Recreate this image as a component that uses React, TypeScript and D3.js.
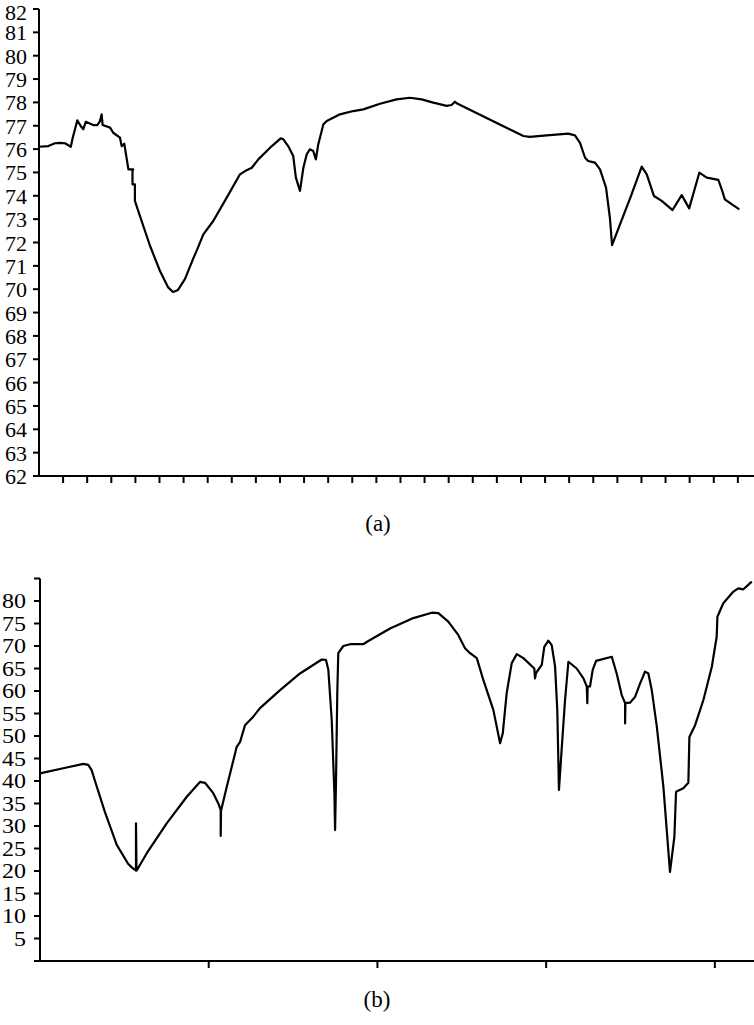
import React, { useRef, useEffect } from "react";
import * as d3 from "d3";

// chart (a): x in tick units, y in the axis units
const topX = [0, 0.39, 0.66, 0.87, 1.08, 1.32, 1.4, 1.59, 1.73, 1.84, 1.94, 2.25, 2.42, 2.53, 2.6, 2.64, 2.95, 3.08, 3.36, 3.43, 3.54, 3.71, 3.91, 3.88, 3.88, 3.98, 3.98, 4.19, 4.61, 5.02, 5.35, 5.56, 5.77, 6.06, 6.39, 6.54, 6.82, 7.23, 7.79, 8.34, 8.55, 8.83, 9.1, 9.59, 10.03, 10.14, 10.34, 10.55, 10.66, 10.83, 10.97, 11.11, 11.24, 11.38, 11.49, 11.59, 11.8, 11.94, 12.49, 13.04, 13.46, 14.15, 14.84, 15.39, 15.88, 16.36, 16.92, 17.12, 17.26, 17.33, 20.1, 20.37, 21.07, 21.96, 22.24, 22.45, 22.66, 22.79, 23.07, 23.28, 23.53, 23.69, 23.78, 24.11, 24.59, 25.01, 25.22, 25.52, 25.84, 26.29, 26.67, 26.98, 27.4, 27.71, 28.19, 28.33, 28.46, 28.74, 29.06];
const topY = [76.1, 76.13, 76.25, 76.27, 76.25, 76.1, 76.49, 77.23, 76.99, 76.85, 77.17, 77.03, 77.03, 77.2, 77.49, 77.03, 76.92, 76.7, 76.49, 76.13, 76.23, 75.13, 75.13, 75.06, 74.49, 74.49, 73.78, 73.13, 71.85, 70.78, 70.09, 69.88, 69.97, 70.44, 71.29, 71.64, 72.35, 72.92, 73.92, 74.92, 75.06, 75.2, 75.56, 76.06, 76.46, 76.42, 76.13, 75.7, 74.78, 74.21, 75.2, 75.78, 75.99, 75.92, 75.56, 76.21, 77.06, 77.2, 77.49, 77.63, 77.7, 77.94, 78.13, 78.2, 78.13, 77.99, 77.85, 77.89, 78.03, 77.96, 76.56, 76.52, 76.59, 76.66, 76.59, 76.27, 75.63, 75.49, 75.42, 75.13, 74.35, 73.06, 71.89, 72.78, 74.06, 75.25, 74.92, 73.99, 73.78, 73.39, 74.03, 73.46, 74.99, 74.78, 74.68, 74.28, 73.85, 73.64, 73.42];
const topTicks = d3.range(62, 83);

// chart (b)
const botX = [0, 0.158, 0.257, 0.286, 0.306, 0.326, 0.385, 0.455, 0.522, 0.544, 0.557, 0.569, 0.569, 0.572, 0.581, 0.632, 0.751, 0.87, 0.948, 0.978, 1.027, 1.057, 1.071, 1.071, 1.073, 1.107, 1.166, 1.186, 1.215, 1.225, 1.264, 1.304, 1.423, 1.541, 1.67, 1.695, 1.709, 1.729, 1.745, 1.749, 1.755, 1.762, 1.768, 1.798, 1.838, 1.916, 1.946, 2.075, 2.213, 2.322, 2.361, 2.42, 2.48, 2.519, 2.549, 2.589, 2.628, 2.687, 2.727, 2.743, 2.766, 2.796, 2.826, 2.865, 2.93, 2.934, 2.94, 2.974, 2.989, 3.013, 3.033, 3.053, 3.066, 3.076, 3.093, 3.112, 3.132, 3.181, 3.221, 3.241, 3.244, 3.246, 3.26, 3.276, 3.296, 3.389, 3.418, 3.448, 3.468, 3.468, 3.47, 3.497, 3.527, 3.557, 3.586, 3.606, 3.626, 3.656, 3.695, 3.734, 3.76, 3.77, 3.813, 3.843, 3.849, 3.883, 3.932, 3.982, 4.011, 4.015, 4.05, 4.11, 4.139, 4.169, 4.219];
const botY = [41.7, 43.0, 43.8, 43.6, 42.4, 40.0, 33.1, 25.8, 21.6, 20.8, 20.4, 20.1, 30.6, 20.1, 20.6, 23.9, 30.6, 36.5, 39.8, 39.6, 37.3, 35.0, 33.6, 27.8, 33.4, 38.7, 47.6, 48.7, 52.4, 52.8, 54.3, 56.2, 60.2, 63.9, 67.0, 66.9, 64.7, 53.6, 37.3, 29.1, 41.0, 59.5, 68.4, 70.0, 70.4, 70.4, 71.1, 73.9, 76.2, 77.4, 77.3, 75.4, 72.4, 69.5, 68.4, 67.3, 62.4, 55.8, 48.4, 50.6, 59.5, 66.2, 68.2, 67.3, 65.0, 62.8, 64.0, 65.8, 69.8, 71.2, 70.2, 65.4, 55.8, 38.0, 47.6, 58.0, 66.5, 65.0, 62.8, 61.0, 57.3, 61.0, 61.0, 64.7, 66.7, 67.6, 63.9, 59.1, 57.3, 52.8, 57.3, 57.4, 58.7, 61.7, 64.3, 63.9, 60.2, 52.1, 38.7, 19.8, 27.6, 37.6, 38.4, 39.6, 49.8, 52.4, 58.0, 65.4, 72.1, 76.5, 79.5, 82.1, 82.8, 82.6, 84.3];
const botTicks = d3.range(0, 90, 5);
const botLabels = d3.range(5, 85, 5);

const W = 754;
const H = 1025;
const FONT = "Liberation Serif";

export default function App() {
  const svgRef = useRef<SVGSVGElement>(null);

  useEffect(() => {
    const svg = d3.select(svgRef.current);
    svg.selectAll("*").remove();

    // ---------- (a) ----------
    const xa = d3.scaleLinear().domain([0, 29.67]).range([39, 754]);
    const ya = d3.scaleLinear().domain([62, 82]).range([476, 9]);
    const ga = svg.append("g");

    ga.append("line")
      .attr("x1", xa(0)).attr("x2", xa(0))
      .attr("y1", ya(82)).attr("y2", ya(62))
      .attr("stroke", "#000").attr("stroke-width", 2);
    ga.append("line")
      .attr("x1", xa(0)).attr("x2", W)
      .attr("y1", ya(62)).attr("y2", ya(62))
      .attr("stroke", "#000").attr("stroke-width", 2);

    ga.selectAll("line.yt")
      .data(topTicks)
      .join("line")
      .attr("class", "yt")
      .attr("x1", xa(0) - 6).attr("x2", xa(0))
      .attr("y1", (d) => ya(d)).attr("y2", (d) => ya(d))
      .attr("stroke", "#000").attr("stroke-width", 2);

    // top label pushed down a touch so it stays inside the page
    ga.selectAll("text.yl")
      .data(topTicks)
      .join("text")
      .attr("class", "yl")
      .attr("x", 27)
      .attr("y", (d) => Math.max(ya(d) + 8, 20))
      .attr("text-anchor", "end")
      .attr("font-family", FONT)
      .attr("font-size", 22)
      .text((d) => d);

    ga.selectAll("line.xt")
      .data(d3.range(1, 30))
      .join("line")
      .attr("class", "xt")
      .attr("x1", (d) => xa(d)).attr("x2", (d) => xa(d))
      .attr("y1", ya(62)).attr("y2", ya(62) + 7)
      .attr("stroke", "#000").attr("stroke-width", 2);

    const lineA = d3.line<number>()
      .x((d, i) => xa(topX[i]))
      .y((d) => ya(d));
    ga.append("path")
      .attr("d", lineA(topY))
      .attr("fill", "none")
      .attr("stroke", "#000")
      .attr("stroke-width", 2.2)
      .attr("stroke-linejoin", "round");

    svg.append("text")
      .attr("x", 378).attr("y", 531)
      .attr("text-anchor", "middle")
      .attr("font-family", FONT)
      .attr("font-size", 23)
      .text("(a)");

    // ---------- (b) ----------
    const xb = d3.scaleLinear().domain([0, 4.232]).range([40, 754]);
    const yb = d3.scaleLinear().domain([0, 85]).range([961, 578.5]);
    const gb = svg.append("g");

    gb.append("line")
      .attr("x1", xb(0)).attr("x2", xb(0))
      .attr("y1", yb(85)).attr("y2", yb(0))
      .attr("stroke", "#000").attr("stroke-width", 2);
    gb.append("line")
      .attr("x1", xb(0)).attr("x2", W)
      .attr("y1", yb(0)).attr("y2", yb(0))
      .attr("stroke", "#000").attr("stroke-width", 2);

    gb.selectAll("line.yt")
      .data(botTicks)
      .join("line")
      .attr("class", "yt")
      .attr("x1", xb(0) - 6).attr("x2", xb(0))
      .attr("y1", (d) => yb(d)).attr("y2", (d) => yb(d))
      .attr("stroke", "#000").attr("stroke-width", 2);

    gb.selectAll("text.yl")
      .data(botLabels)
      .join("text")
      .attr("class", "yl")
      .attr("transform", (d) => `translate(26,${yb(d) + 7}) scale(1.2,1)`)
      .attr("text-anchor", "end")
      .attr("font-family", FONT)
      .attr("font-size", 20)
      .text((d) => d);

    gb.selectAll("line.xt")
      .data(d3.range(1, 5))
      .join("line")
      .attr("class", "xt")
      .attr("x1", (d) => xb(d)).attr("x2", (d) => xb(d))
      .attr("y1", yb(0)).attr("y2", yb(0) + 7)
      .attr("stroke", "#000").attr("stroke-width", 2);

    const lineB = d3.line<number>()
      .x((d, i) => xb(botX[i]))
      .y((d) => yb(d));
    gb.append("path")
      .attr("d", lineB(botY))
      .attr("fill", "none")
      .attr("stroke", "#000")
      .attr("stroke-width", 2.2)
      .attr("stroke-linejoin", "round");

    svg.append("text")
      .attr("x", 377).attr("y", 1007)
      .attr("text-anchor", "middle")
      .attr("font-family", FONT)
      .attr("font-size", 23)
      .text("(b)");
  }, []);

  return (
    <svg
      ref={svgRef}
      width={W}
      height={H}
      style={{ position: "absolute", left: 0, top: 0, background: "#fff" }}
    />
  );
}
